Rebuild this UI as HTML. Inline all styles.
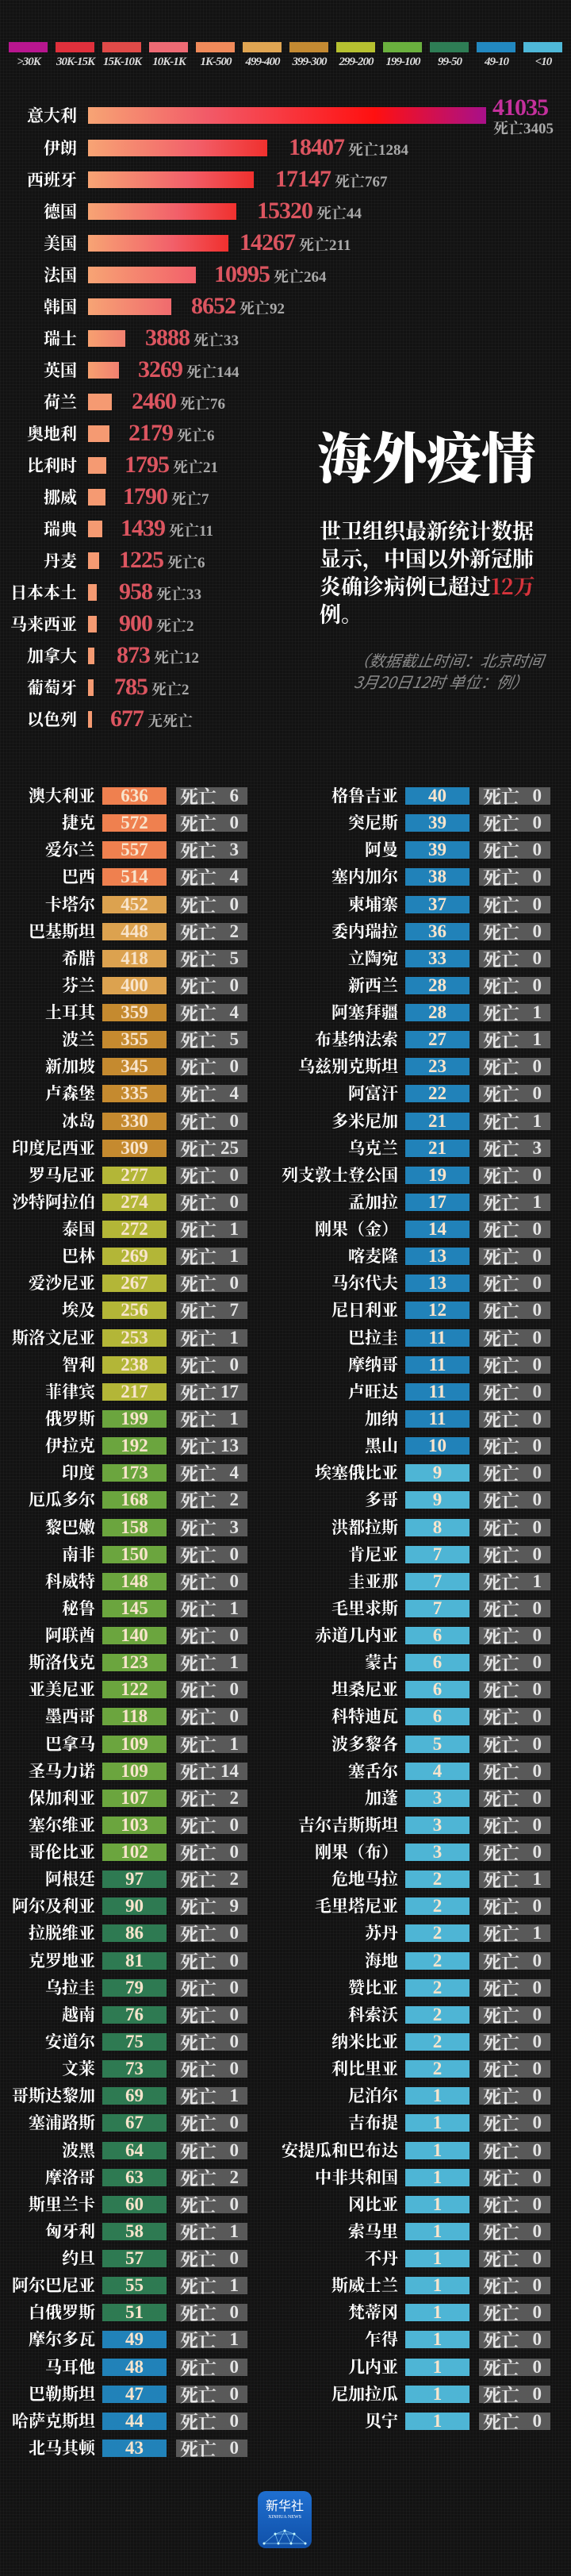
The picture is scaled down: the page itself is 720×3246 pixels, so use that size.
<!DOCTYPE html>
<html><head><meta charset="utf-8"><style>
*{margin:0;padding:0;box-sizing:border-box}
body{width:720px;height:3246px;background:#121212;position:relative;overflow:hidden;font-family:"Liberation Serif","Noto Serif CJK SC",serif;
background-image:linear-gradient(rgba(255,255,255,0.025) 1px,transparent 1px),linear-gradient(90deg,rgba(255,255,255,0.025) 1px,transparent 1px);background-size:4px 4px;}
.lg{position:absolute;top:53px;width:49px;height:13px}
.ll{position:absolute;top:70px;width:70px;text-align:center;color:#ddd;font-size:15px;font-style:italic;font-weight:bold;letter-spacing:-1px;margin-left:-10px}
.br{position:absolute;left:0;height:21px;width:720px}
.br .n{position:absolute;right:623px;top:-6px;color:#fff;font-weight:bold;font-size:21px;white-space:nowrap;font-family:"Noto Serif CJK SC",serif;line-height:32px}
.br .b{position:absolute;left:111px;top:0;height:21px;background:linear-gradient(90deg,#f7a474,#f2606a 60%,#f0302e)}
.br .v{position:absolute;top:-8px;color:#dc5560;font-weight:bold;font-size:30px;line-height:36px;white-space:nowrap;letter-spacing:-1px}
.br .v small{font-size:19px;color:#aaa;font-weight:bold;margin-left:5px;letter-spacing:0}
.r{position:absolute;height:22px;width:320px}
.r .n{position:absolute;right:200px;top:-6px;color:#fff;font-weight:bold;font-size:21px;line-height:32px;white-space:nowrap;font-family:"Noto Serif CJK SC",serif}
.r .v{position:absolute;left:129px;width:81px;height:22px;top:0;color:#f8e4cc;font-weight:bold;font-size:23px;line-height:22px;text-align:center}
.r .d{position:absolute;left:222px;width:90px;height:22px;top:0;background:#595959;color:#e4e4e4;font-weight:bold;font-size:23px;line-height:22px;font-family:"Noto Serif CJK SC",serif}
.r .d i{font-style:normal;position:absolute;left:5px}
.r .d b{position:absolute;right:11px;font-family:"Liberation Serif",serif;font-size:23px}
.c1{background:#ef804f}.c2{background:#dca24f}.c3{background:#c58a2f}.c4{background:#b3b637}.c5{background:#6ba53e}.c6{background:#2e7a52}.c7{background:#2182b9}.c8{background:#4eb5d5}
</style></head><body>

<div class="lg" style="left:11px;background:#b8168f"></div><div class="ll" style="left:11px">&gt;30K</div>
<div class="lg" style="left:70px;background:#e0303c"></div><div class="ll" style="left:70px">30K-15K</div>
<div class="lg" style="left:129px;background:#e04a48"></div><div class="ll" style="left:129px">15K-10K</div>
<div class="lg" style="left:188px;background:#ee6a74"></div><div class="ll" style="left:188px">10K-1K</div>
<div class="lg" style="left:247px;background:#f08a5a"></div><div class="ll" style="left:247px">1K-500</div>
<div class="lg" style="left:306px;background:#e0a552"></div><div class="ll" style="left:306px">499-400</div>
<div class="lg" style="left:365px;background:#c48a32"></div><div class="ll" style="left:365px">399-300</div>
<div class="lg" style="left:424px;background:#b6c030"></div><div class="ll" style="left:424px">299-200</div>
<div class="lg" style="left:483px;background:#6ab03e"></div><div class="ll" style="left:483px">199-100</div>
<div class="lg" style="left:542px;background:#2e7d55"></div><div class="ll" style="left:542px">99-50</div>
<div class="lg" style="left:601px;background:#2288c0"></div><div class="ll" style="left:601px">49-10</div>
<div class="lg" style="left:660px;background:#4fb8d8"></div><div class="ll" style="left:660px">&lt;10</div>

<div class="br" style="top:135px"><span class="n">意大利</span><span class="b" style="width:502px;background:linear-gradient(90deg,#f7a474,#f25a68 30%,#ff1010 72%,#a8108a)"></span></div>
<div style="position:absolute;left:621px;top:120px;color:#c4309c;font-weight:bold;font-size:30px;line-height:32px;letter-spacing:-1px">41035</div>
<div style="position:absolute;left:622px;top:152px;color:#aaa;font-weight:bold;font-size:19px;line-height:22px">死亡3405</div>
<div class="br" style="top:176px"><span class="n">伊朗</span><span class="b" style="width:226px"></span><span class="v" style="left:364px">18407<small>死亡1284</small></span></div>
<div class="br" style="top:216px"><span class="n">西班牙</span><span class="b" style="width:209px"></span><span class="v" style="left:347px">17147<small>死亡767</small></span></div>
<div class="br" style="top:256px"><span class="n">德国</span><span class="b" style="width:187px"></span><span class="v" style="left:324px">15320<small>死亡44</small></span></div>
<div class="br" style="top:296px"><span class="n">美国</span><span class="b" style="width:177px"></span><span class="v" style="left:302px">14267<small>死亡211</small></span></div>
<div class="br" style="top:336px"><span class="n">法国</span><span class="b" style="width:136px;background:linear-gradient(90deg,#f7a474,#f2606a)"></span><span class="v" style="left:270px">10995<small>死亡264</small></span></div>
<div class="br" style="top:376px"><span class="n">韩国</span><span class="b" style="width:105px;background:linear-gradient(90deg,#f7a474,#f06a6e)"></span><span class="v" style="left:241px">8652<small>死亡92</small></span></div>
<div class="br" style="top:416px"><span class="n">瑞士</span><span class="b" style="width:47px;background:linear-gradient(90deg,#f7a070,#f08070)"></span><span class="v" style="left:183px">3888<small>死亡33</small></span></div>
<div class="br" style="top:456px"><span class="n">英国</span><span class="b" style="width:39px;background:linear-gradient(90deg,#f7a070,#f08070)"></span><span class="v" style="left:174px">3269<small>死亡144</small></span></div>
<div class="br" style="top:496px"><span class="n">荷兰</span><span class="b" style="width:30px;background:#f59a72"></span><span class="v" style="left:166px">2460<small>死亡76</small></span></div>
<div class="br" style="top:536px"><span class="n">奥地利</span><span class="b" style="width:27px;background:#f59a72"></span><span class="v" style="left:162px">2179<small>死亡6</small></span></div>
<div class="br" style="top:576px"><span class="n">比利时</span><span class="b" style="width:23px;background:#f59a72"></span><span class="v" style="left:157px">1795<small>死亡21</small></span></div>
<div class="br" style="top:616px"><span class="n">挪威</span><span class="b" style="width:22px;background:#f59a72"></span><span class="v" style="left:155px">1790<small>死亡7</small></span></div>
<div class="br" style="top:656px"><span class="n">瑞典</span><span class="b" style="width:18px;background:#f59a72"></span><span class="v" style="left:152px">1439<small>死亡11</small></span></div>
<div class="br" style="top:696px"><span class="n">丹麦</span><span class="b" style="width:14px;background:#f59a72"></span><span class="v" style="left:150px">1225<small>死亡6</small></span></div>
<div class="br" style="top:736px"><span class="n">日本本土</span><span class="b" style="width:11px;background:#f59a72"></span><span class="v" style="left:150px">958<small>死亡33</small></span></div>
<div class="br" style="top:776px"><span class="n">马来西亚</span><span class="b" style="width:11px;background:#f59a72"></span><span class="v" style="left:150px">900<small>死亡2</small></span></div>
<div class="br" style="top:816px"><span class="n">加拿大</span><span class="b" style="width:8px;background:#f59a72"></span><span class="v" style="left:147px">873<small>死亡12</small></span></div>
<div class="br" style="top:856px"><span class="n">葡萄牙</span><span class="b" style="width:7px;background:#f59a72"></span><span class="v" style="left:144px">785<small>死亡2</small></span></div>
<div class="br" style="top:896px"><span class="n">以色列</span><span class="b" style="width:5px;background:#f59a72"></span><span class="v" style="left:139px">677<small>无死亡</small></span></div>

<div style="position:absolute;left:400px;top:530px;color:#fff;font-family:'Noto Serif CJK SC',serif;font-weight:900;font-size:69px;line-height:86px;white-space:nowrap">海外疫情</div>
<div style="position:absolute;left:403px;top:650px;width:290px;color:#fff;font-family:'Noto Serif CJK SC',serif;font-weight:bold;font-size:27px;line-height:35px">世卫组织最新统计数据显示，中国以外新冠肺炎确诊病例已超过<span style="color:#d8343c">12万</span>例。</div>
<div style="position:absolute;left:444px;top:818px;color:#8a8a8a;font-family:'Noto Sans CJK SC',sans-serif;font-style:italic;font-size:20px;line-height:27px;white-space:nowrap;transform:skewX(-8deg)">（数据截止时间：北京时间<br>&nbsp;3月20日12时 单位：例）</div>

<div style="position:absolute;left:0;top:992px">
<div class="r" style="top:0px"><span class="n">澳大利亚</span><span class="v c1">636</span><span class="d"><i>死亡</i><b>6</b></span></div>
<div class="r" style="top:34.13px"><span class="n">捷克</span><span class="v c1">572</span><span class="d"><i>死亡</i><b>0</b></span></div>
<div class="r" style="top:68.26px"><span class="n">爱尔兰</span><span class="v c1">557</span><span class="d"><i>死亡</i><b>3</b></span></div>
<div class="r" style="top:102.39px"><span class="n">巴西</span><span class="v c1">514</span><span class="d"><i>死亡</i><b>4</b></span></div>
<div class="r" style="top:136.52px"><span class="n">卡塔尔</span><span class="v c2">452</span><span class="d"><i>死亡</i><b>0</b></span></div>
<div class="r" style="top:170.65px"><span class="n">巴基斯坦</span><span class="v c2">448</span><span class="d"><i>死亡</i><b>2</b></span></div>
<div class="r" style="top:204.78px"><span class="n">希腊</span><span class="v c2">418</span><span class="d"><i>死亡</i><b>5</b></span></div>
<div class="r" style="top:238.91px"><span class="n">芬兰</span><span class="v c2">400</span><span class="d"><i>死亡</i><b>0</b></span></div>
<div class="r" style="top:273.04px"><span class="n">土耳其</span><span class="v c3">359</span><span class="d"><i>死亡</i><b>4</b></span></div>
<div class="r" style="top:307.17px"><span class="n">波兰</span><span class="v c3">355</span><span class="d"><i>死亡</i><b>5</b></span></div>
<div class="r" style="top:341.3px"><span class="n">新加坡</span><span class="v c3">345</span><span class="d"><i>死亡</i><b>0</b></span></div>
<div class="r" style="top:375.43px"><span class="n">卢森堡</span><span class="v c3">335</span><span class="d"><i>死亡</i><b>4</b></span></div>
<div class="r" style="top:409.56px"><span class="n">冰岛</span><span class="v c3">330</span><span class="d"><i>死亡</i><b>0</b></span></div>
<div class="r" style="top:443.69px"><span class="n">印度尼西亚</span><span class="v c3">309</span><span class="d"><i>死亡</i><b>25</b></span></div>
<div class="r" style="top:477.82px"><span class="n">罗马尼亚</span><span class="v c4">277</span><span class="d"><i>死亡</i><b>0</b></span></div>
<div class="r" style="top:511.95px"><span class="n">沙特阿拉伯</span><span class="v c4">274</span><span class="d"><i>死亡</i><b>0</b></span></div>
<div class="r" style="top:546.08px"><span class="n">泰国</span><span class="v c4">272</span><span class="d"><i>死亡</i><b>1</b></span></div>
<div class="r" style="top:580.21px"><span class="n">巴林</span><span class="v c4">269</span><span class="d"><i>死亡</i><b>1</b></span></div>
<div class="r" style="top:614.34px"><span class="n">爱沙尼亚</span><span class="v c4">267</span><span class="d"><i>死亡</i><b>0</b></span></div>
<div class="r" style="top:648.47px"><span class="n">埃及</span><span class="v c4">256</span><span class="d"><i>死亡</i><b>7</b></span></div>
<div class="r" style="top:682.6px"><span class="n">斯洛文尼亚</span><span class="v c4">253</span><span class="d"><i>死亡</i><b>1</b></span></div>
<div class="r" style="top:716.73px"><span class="n">智利</span><span class="v c4">238</span><span class="d"><i>死亡</i><b>0</b></span></div>
<div class="r" style="top:750.86px"><span class="n">菲律宾</span><span class="v c4">217</span><span class="d"><i>死亡</i><b>17</b></span></div>
<div class="r" style="top:784.99px"><span class="n">俄罗斯</span><span class="v c5">199</span><span class="d"><i>死亡</i><b>1</b></span></div>
<div class="r" style="top:819.12px"><span class="n">伊拉克</span><span class="v c5">192</span><span class="d"><i>死亡</i><b>13</b></span></div>
<div class="r" style="top:853.25px"><span class="n">印度</span><span class="v c5">173</span><span class="d"><i>死亡</i><b>4</b></span></div>
<div class="r" style="top:887.38px"><span class="n">厄瓜多尔</span><span class="v c5">168</span><span class="d"><i>死亡</i><b>2</b></span></div>
<div class="r" style="top:921.51px"><span class="n">黎巴嫩</span><span class="v c5">158</span><span class="d"><i>死亡</i><b>3</b></span></div>
<div class="r" style="top:955.64px"><span class="n">南非</span><span class="v c5">150</span><span class="d"><i>死亡</i><b>0</b></span></div>
<div class="r" style="top:989.77px"><span class="n">科威特</span><span class="v c5">148</span><span class="d"><i>死亡</i><b>0</b></span></div>
<div class="r" style="top:1023.9px"><span class="n">秘鲁</span><span class="v c5">145</span><span class="d"><i>死亡</i><b>1</b></span></div>
<div class="r" style="top:1058.03px"><span class="n">阿联酋</span><span class="v c5">140</span><span class="d"><i>死亡</i><b>0</b></span></div>
<div class="r" style="top:1092.16px"><span class="n">斯洛伐克</span><span class="v c5">123</span><span class="d"><i>死亡</i><b>1</b></span></div>
<div class="r" style="top:1126.29px"><span class="n">亚美尼亚</span><span class="v c5">122</span><span class="d"><i>死亡</i><b>0</b></span></div>
<div class="r" style="top:1160.42px"><span class="n">墨西哥</span><span class="v c5">118</span><span class="d"><i>死亡</i><b>0</b></span></div>
<div class="r" style="top:1194.55px"><span class="n">巴拿马</span><span class="v c5">109</span><span class="d"><i>死亡</i><b>1</b></span></div>
<div class="r" style="top:1228.68px"><span class="n">圣马力诺</span><span class="v c5">109</span><span class="d"><i>死亡</i><b>14</b></span></div>
<div class="r" style="top:1262.81px"><span class="n">保加利亚</span><span class="v c5">107</span><span class="d"><i>死亡</i><b>2</b></span></div>
<div class="r" style="top:1296.94px"><span class="n">塞尔维亚</span><span class="v c5">103</span><span class="d"><i>死亡</i><b>0</b></span></div>
<div class="r" style="top:1331.07px"><span class="n">哥伦比亚</span><span class="v c5">102</span><span class="d"><i>死亡</i><b>0</b></span></div>
<div class="r" style="top:1365.2px"><span class="n">阿根廷</span><span class="v c6">97</span><span class="d"><i>死亡</i><b>2</b></span></div>
<div class="r" style="top:1399.33px"><span class="n">阿尔及利亚</span><span class="v c6">90</span><span class="d"><i>死亡</i><b>9</b></span></div>
<div class="r" style="top:1433.46px"><span class="n">拉脱维亚</span><span class="v c6">86</span><span class="d"><i>死亡</i><b>0</b></span></div>
<div class="r" style="top:1467.59px"><span class="n">克罗地亚</span><span class="v c6">81</span><span class="d"><i>死亡</i><b>0</b></span></div>
<div class="r" style="top:1501.72px"><span class="n">乌拉圭</span><span class="v c6">79</span><span class="d"><i>死亡</i><b>0</b></span></div>
<div class="r" style="top:1535.85px"><span class="n">越南</span><span class="v c6">76</span><span class="d"><i>死亡</i><b>0</b></span></div>
<div class="r" style="top:1569.98px"><span class="n">安道尔</span><span class="v c6">75</span><span class="d"><i>死亡</i><b>0</b></span></div>
<div class="r" style="top:1604.11px"><span class="n">文莱</span><span class="v c6">73</span><span class="d"><i>死亡</i><b>0</b></span></div>
<div class="r" style="top:1638.24px"><span class="n">哥斯达黎加</span><span class="v c6">69</span><span class="d"><i>死亡</i><b>1</b></span></div>
<div class="r" style="top:1672.37px"><span class="n">塞浦路斯</span><span class="v c6">67</span><span class="d"><i>死亡</i><b>0</b></span></div>
<div class="r" style="top:1706.5px"><span class="n">波黑</span><span class="v c6">64</span><span class="d"><i>死亡</i><b>0</b></span></div>
<div class="r" style="top:1740.63px"><span class="n">摩洛哥</span><span class="v c6">63</span><span class="d"><i>死亡</i><b>2</b></span></div>
<div class="r" style="top:1774.76px"><span class="n">斯里兰卡</span><span class="v c6">60</span><span class="d"><i>死亡</i><b>0</b></span></div>
<div class="r" style="top:1808.89px"><span class="n">匈牙利</span><span class="v c6">58</span><span class="d"><i>死亡</i><b>1</b></span></div>
<div class="r" style="top:1843.02px"><span class="n">约旦</span><span class="v c6">57</span><span class="d"><i>死亡</i><b>0</b></span></div>
<div class="r" style="top:1877.15px"><span class="n">阿尔巴尼亚</span><span class="v c6">55</span><span class="d"><i>死亡</i><b>1</b></span></div>
<div class="r" style="top:1911.28px"><span class="n">白俄罗斯</span><span class="v c6">51</span><span class="d"><i>死亡</i><b>0</b></span></div>
<div class="r" style="top:1945.41px"><span class="n">摩尔多瓦</span><span class="v c7">49</span><span class="d"><i>死亡</i><b>1</b></span></div>
<div class="r" style="top:1979.54px"><span class="n">马耳他</span><span class="v c7">48</span><span class="d"><i>死亡</i><b>0</b></span></div>
<div class="r" style="top:2013.67px"><span class="n">巴勒斯坦</span><span class="v c7">47</span><span class="d"><i>死亡</i><b>0</b></span></div>
<div class="r" style="top:2047.8px"><span class="n">哈萨克斯坦</span><span class="v c7">44</span><span class="d"><i>死亡</i><b>0</b></span></div>
<div class="r" style="top:2081.93px"><span class="n">北马其顿</span><span class="v c7">43</span><span class="d"><i>死亡</i><b>0</b></span></div>
</div>

<div style="position:absolute;left:382px;top:992px">
<div class="r" style="top:0px"><span class="n">格鲁吉亚</span><span class="v c7">40</span><span class="d"><i>死亡</i><b>0</b></span></div>
<div class="r" style="top:34.13px"><span class="n">突尼斯</span><span class="v c7">39</span><span class="d"><i>死亡</i><b>0</b></span></div>
<div class="r" style="top:68.26px"><span class="n">阿曼</span><span class="v c7">39</span><span class="d"><i>死亡</i><b>0</b></span></div>
<div class="r" style="top:102.39px"><span class="n">塞内加尔</span><span class="v c7">38</span><span class="d"><i>死亡</i><b>0</b></span></div>
<div class="r" style="top:136.52px"><span class="n">柬埔寨</span><span class="v c7">37</span><span class="d"><i>死亡</i><b>0</b></span></div>
<div class="r" style="top:170.65px"><span class="n">委内瑞拉</span><span class="v c7">36</span><span class="d"><i>死亡</i><b>0</b></span></div>
<div class="r" style="top:204.78px"><span class="n">立陶宛</span><span class="v c7">33</span><span class="d"><i>死亡</i><b>0</b></span></div>
<div class="r" style="top:238.91px"><span class="n">新西兰</span><span class="v c7">28</span><span class="d"><i>死亡</i><b>0</b></span></div>
<div class="r" style="top:273.04px"><span class="n">阿塞拜疆</span><span class="v c7">28</span><span class="d"><i>死亡</i><b>1</b></span></div>
<div class="r" style="top:307.17px"><span class="n">布基纳法索</span><span class="v c7">27</span><span class="d"><i>死亡</i><b>1</b></span></div>
<div class="r" style="top:341.3px"><span class="n">乌兹别克斯坦</span><span class="v c7">23</span><span class="d"><i>死亡</i><b>0</b></span></div>
<div class="r" style="top:375.43px"><span class="n">阿富汗</span><span class="v c7">22</span><span class="d"><i>死亡</i><b>0</b></span></div>
<div class="r" style="top:409.56px"><span class="n">多米尼加</span><span class="v c7">21</span><span class="d"><i>死亡</i><b>1</b></span></div>
<div class="r" style="top:443.69px"><span class="n">乌克兰</span><span class="v c7">21</span><span class="d"><i>死亡</i><b>3</b></span></div>
<div class="r" style="top:477.82px"><span class="n">列支敦士登公国</span><span class="v c7">19</span><span class="d"><i>死亡</i><b>0</b></span></div>
<div class="r" style="top:511.95px"><span class="n">孟加拉</span><span class="v c7">17</span><span class="d"><i>死亡</i><b>1</b></span></div>
<div class="r" style="top:546.08px"><span class="n">刚果（金）</span><span class="v c7">14</span><span class="d"><i>死亡</i><b>0</b></span></div>
<div class="r" style="top:580.21px"><span class="n">喀麦隆</span><span class="v c7">13</span><span class="d"><i>死亡</i><b>0</b></span></div>
<div class="r" style="top:614.34px"><span class="n">马尔代夫</span><span class="v c7">13</span><span class="d"><i>死亡</i><b>0</b></span></div>
<div class="r" style="top:648.47px"><span class="n">尼日利亚</span><span class="v c7">12</span><span class="d"><i>死亡</i><b>0</b></span></div>
<div class="r" style="top:682.6px"><span class="n">巴拉圭</span><span class="v c7">11</span><span class="d"><i>死亡</i><b>0</b></span></div>
<div class="r" style="top:716.73px"><span class="n">摩纳哥</span><span class="v c7">11</span><span class="d"><i>死亡</i><b>0</b></span></div>
<div class="r" style="top:750.86px"><span class="n">卢旺达</span><span class="v c7">11</span><span class="d"><i>死亡</i><b>0</b></span></div>
<div class="r" style="top:784.99px"><span class="n">加纳</span><span class="v c7">11</span><span class="d"><i>死亡</i><b>0</b></span></div>
<div class="r" style="top:819.12px"><span class="n">黑山</span><span class="v c7">10</span><span class="d"><i>死亡</i><b>0</b></span></div>
<div class="r" style="top:853.25px"><span class="n">埃塞俄比亚</span><span class="v c8">9</span><span class="d"><i>死亡</i><b>0</b></span></div>
<div class="r" style="top:887.38px"><span class="n">多哥</span><span class="v c8">9</span><span class="d"><i>死亡</i><b>0</b></span></div>
<div class="r" style="top:921.51px"><span class="n">洪都拉斯</span><span class="v c8">8</span><span class="d"><i>死亡</i><b>0</b></span></div>
<div class="r" style="top:955.64px"><span class="n">肯尼亚</span><span class="v c8">7</span><span class="d"><i>死亡</i><b>0</b></span></div>
<div class="r" style="top:989.77px"><span class="n">圭亚那</span><span class="v c8">7</span><span class="d"><i>死亡</i><b>1</b></span></div>
<div class="r" style="top:1023.9px"><span class="n">毛里求斯</span><span class="v c8">7</span><span class="d"><i>死亡</i><b>0</b></span></div>
<div class="r" style="top:1058.03px"><span class="n">赤道几内亚</span><span class="v c8">6</span><span class="d"><i>死亡</i><b>0</b></span></div>
<div class="r" style="top:1092.16px"><span class="n">蒙古</span><span class="v c8">6</span><span class="d"><i>死亡</i><b>0</b></span></div>
<div class="r" style="top:1126.29px"><span class="n">坦桑尼亚</span><span class="v c8">6</span><span class="d"><i>死亡</i><b>0</b></span></div>
<div class="r" style="top:1160.42px"><span class="n">科特迪瓦</span><span class="v c8">6</span><span class="d"><i>死亡</i><b>0</b></span></div>
<div class="r" style="top:1194.55px"><span class="n">波多黎各</span><span class="v c8">5</span><span class="d"><i>死亡</i><b>0</b></span></div>
<div class="r" style="top:1228.68px"><span class="n">塞舌尔</span><span class="v c8">4</span><span class="d"><i>死亡</i><b>0</b></span></div>
<div class="r" style="top:1262.81px"><span class="n">加蓬</span><span class="v c8">3</span><span class="d"><i>死亡</i><b>0</b></span></div>
<div class="r" style="top:1296.94px"><span class="n">吉尔吉斯斯坦</span><span class="v c8">3</span><span class="d"><i>死亡</i><b>0</b></span></div>
<div class="r" style="top:1331.07px"><span class="n">刚果（布）</span><span class="v c8">3</span><span class="d"><i>死亡</i><b>0</b></span></div>
<div class="r" style="top:1365.2px"><span class="n">危地马拉</span><span class="v c8">2</span><span class="d"><i>死亡</i><b>1</b></span></div>
<div class="r" style="top:1399.33px"><span class="n">毛里塔尼亚</span><span class="v c8">2</span><span class="d"><i>死亡</i><b>0</b></span></div>
<div class="r" style="top:1433.46px"><span class="n">苏丹</span><span class="v c8">2</span><span class="d"><i>死亡</i><b>1</b></span></div>
<div class="r" style="top:1467.59px"><span class="n">海地</span><span class="v c8">2</span><span class="d"><i>死亡</i><b>0</b></span></div>
<div class="r" style="top:1501.72px"><span class="n">赞比亚</span><span class="v c8">2</span><span class="d"><i>死亡</i><b>0</b></span></div>
<div class="r" style="top:1535.85px"><span class="n">科索沃</span><span class="v c8">2</span><span class="d"><i>死亡</i><b>0</b></span></div>
<div class="r" style="top:1569.98px"><span class="n">纳米比亚</span><span class="v c8">2</span><span class="d"><i>死亡</i><b>0</b></span></div>
<div class="r" style="top:1604.11px"><span class="n">利比里亚</span><span class="v c8">2</span><span class="d"><i>死亡</i><b>0</b></span></div>
<div class="r" style="top:1638.24px"><span class="n">尼泊尔</span><span class="v c8">1</span><span class="d"><i>死亡</i><b>0</b></span></div>
<div class="r" style="top:1672.37px"><span class="n">吉布提</span><span class="v c8">1</span><span class="d"><i>死亡</i><b>0</b></span></div>
<div class="r" style="top:1706.5px"><span class="n">安提瓜和巴布达</span><span class="v c8">1</span><span class="d"><i>死亡</i><b>0</b></span></div>
<div class="r" style="top:1740.63px"><span class="n">中非共和国</span><span class="v c8">1</span><span class="d"><i>死亡</i><b>0</b></span></div>
<div class="r" style="top:1774.76px"><span class="n">冈比亚</span><span class="v c8">1</span><span class="d"><i>死亡</i><b>0</b></span></div>
<div class="r" style="top:1808.89px"><span class="n">索马里</span><span class="v c8">1</span><span class="d"><i>死亡</i><b>0</b></span></div>
<div class="r" style="top:1843.02px"><span class="n">不丹</span><span class="v c8">1</span><span class="d"><i>死亡</i><b>0</b></span></div>
<div class="r" style="top:1877.15px"><span class="n">斯威士兰</span><span class="v c8">1</span><span class="d"><i>死亡</i><b>0</b></span></div>
<div class="r" style="top:1911.28px"><span class="n">梵蒂冈</span><span class="v c8">1</span><span class="d"><i>死亡</i><b>0</b></span></div>
<div class="r" style="top:1945.41px"><span class="n">乍得</span><span class="v c8">1</span><span class="d"><i>死亡</i><b>0</b></span></div>
<div class="r" style="top:1979.54px"><span class="n">几内亚</span><span class="v c8">1</span><span class="d"><i>死亡</i><b>0</b></span></div>
<div class="r" style="top:2013.67px"><span class="n">尼加拉瓜</span><span class="v c8">1</span><span class="d"><i>死亡</i><b>0</b></span></div>
<div class="r" style="top:2047.8px"><span class="n">贝宁</span><span class="v c8">1</span><span class="d"><i>死亡</i><b>0</b></span></div>
</div>

<div style="position:absolute;left:325px;top:3139px;width:68px;height:72px;border-radius:10px;background:linear-gradient(180deg,#1f6fd0,#1050a8);overflow:hidden">
<div style="position:absolute;top:8px;width:68px;text-align:center;color:#fff;font-family:'Noto Sans CJK SC',sans-serif;font-size:16px;line-height:18px">新华社</div>
<div style="position:absolute;top:29px;width:68px;text-align:center;color:#fff;font-size:6px;line-height:8px">XINHUA NEWS</div>
<svg style="position:absolute;left:0;top:42px" width="68" height="30"><g stroke="#9fe0ff" stroke-width="0.7" fill="none" opacity="0.8"><path d="M8 24 L22 12 L34 8 L46 12 L60 24 M22 12 L26 24 L34 8 L42 24 L46 12 M8 24 L26 24 L42 24 L60 24 M22 12 L46 12"/></g><g fill="#cff"><circle cx="8" cy="24" r="1.5"/><circle cx="22" cy="12" r="1.5"/><circle cx="34" cy="8" r="1.5"/><circle cx="46" cy="12" r="1.5"/><circle cx="60" cy="24" r="1.5"/><circle cx="26" cy="24" r="1.5"/><circle cx="42" cy="24" r="1.5"/></g></svg>
</div>
</body></html>
